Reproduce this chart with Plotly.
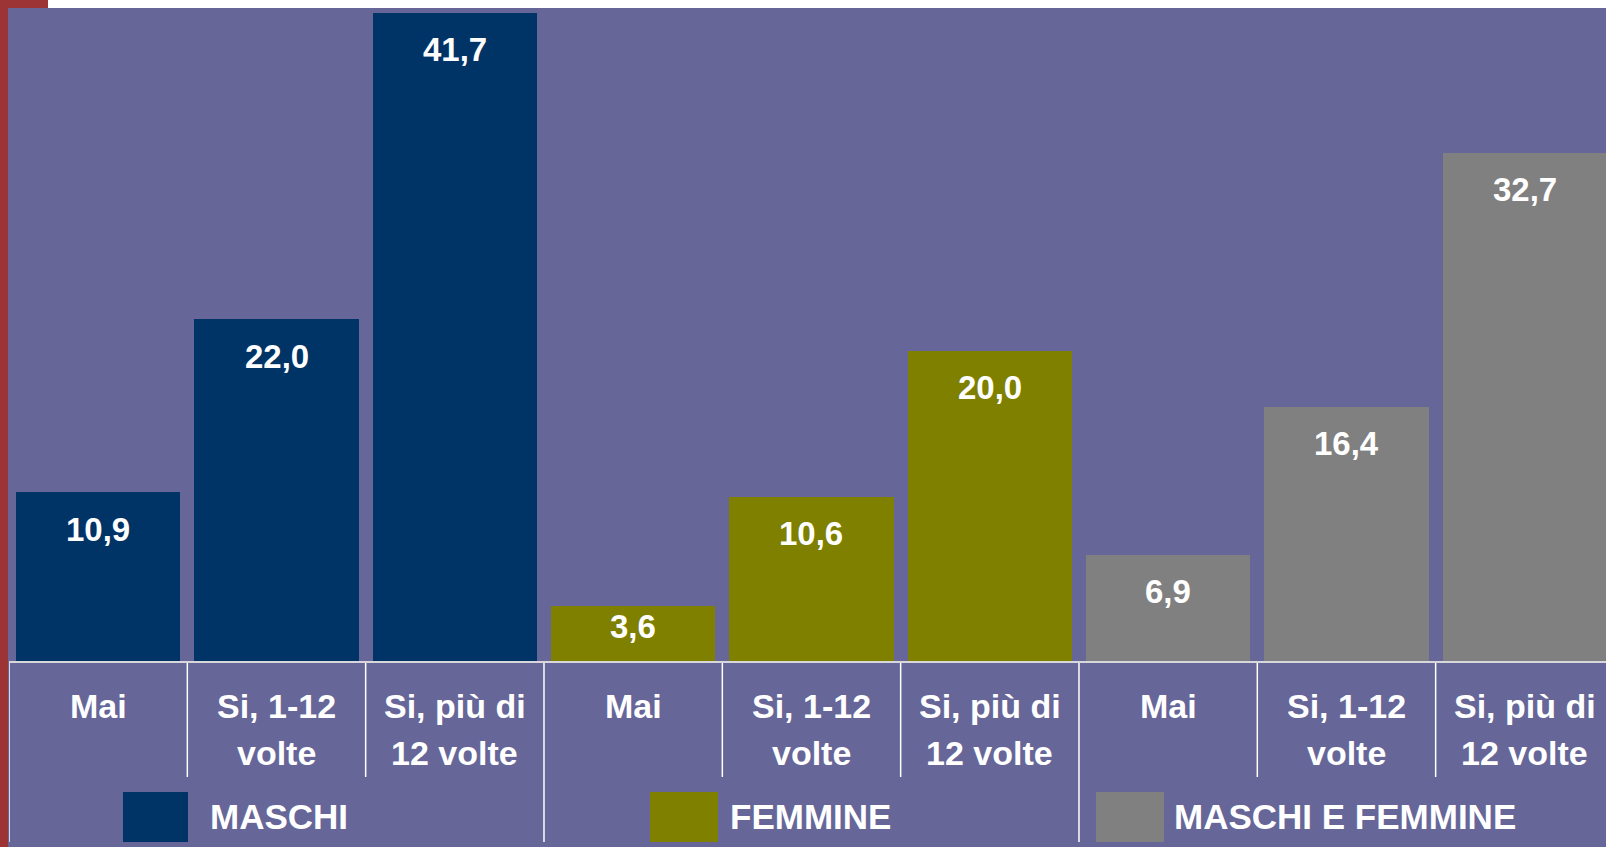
import plotly.graph_objects as go

# ---- data ----
categories = ["Mai", "Si, 1-12 volte", "Si, più di 12 volte"]
cat_line1 = ["Mai", "Si, 1-12", "Si, più di"]
cat_line2 = ["", "volte", "12 volte"]
groups = ["MASCHI", "FEMMINE", "MASCHI E FEMMINE"]
maschi = [10.9, 22.0, 41.7]
femmine = [3.6, 10.6, 20.0]
maschi_e_femmine = [6.9, 16.4, 32.7]
series = [maschi, femmine, maschi_e_femmine]
colors = ["#003366", "#808000", "#808080"]

W, H = 1606, 847
L, T, B = 9, 8, 185
PLOT_W = W - L
PLOT_H = H - T - B
PX_PER_CAT = 178.33
Y_MAX = 42.0
x_max = -0.5 + PLOT_W / PX_PER_CAT
PX_PER_UNIT = PLOT_H / Y_MAX
FONT = "Liberation Sans, Arial, sans-serif"
BG = "#666699"


def px2x(px):
    return (px - L) / PLOT_W


def py2y(py):
    return (T + PLOT_H - py) / PLOT_H


fig = go.Figure()
shapes = []
annotations = []

for g, (name, vals, col) in enumerate(zip(groups, series, colors)):
    xs = [g * 3 + i for i in range(len(vals))]
    fig.add_trace(go.Bar(
        x=xs, y=vals, name=name, marker=dict(color=col, line=dict(width=0)),
        width=0.92, showlegend=False, hoverinfo="skip"))
    for x, v in zip(xs, vals):
        bar_px = v * PX_PER_UNIT
        off = 37 if bar_px > 80 else bar_px * 0.36
        annotations.append(dict(
            x=x, y=v, xref="x", yref="y", text=f"{v:.1f}".replace(".", ","),
            showarrow=False, yanchor="middle", yshift=-off,
            font=dict(family=FONT, size=33, color="white", weight="bold")))
    for i in range(len(vals)):
        x = g * 3 + i
        annotations.append(dict(
            x=x, y=py2y(704), xref="x", yref="paper", text=cat_line1[i],
            showarrow=False, yanchor="middle", yshift=-2,
            font=dict(family=FONT, size=34, color="white", weight="bold")))
        if cat_line2[i]:
            annotations.append(dict(
                x=x, y=py2y(753), xref="x", yref="paper", text=cat_line2[i],
                showarrow=False, yanchor="middle", yshift=0,
                font=dict(family=FONT, size=34, color="white", weight="bold")))

# separators below the axis
n = sum(len(s) for s in series)
for k in range(n):
    xb = k - 0.5
    long = (k % 3 == 0)
    shapes.append(dict(type="line", xref="x", yref="paper", x0=xb, x1=xb,
                       y0=0, y1=py2y(842 if long else 777),
                       line=dict(color="white", width=1.5), layer="above"))

# baseline
shapes.append(dict(type="line", xref="paper", yref="paper", x0=0, x1=1.01,
                   y0=0, y1=0, line=dict(color="#D8D8DC", width=2), layer="above"))

# legend (custom boxes + labels)
legend_box_px = [(123, 188), (650, 718), (1096, 1164)]
legend_text_px = [208, 728, 1172]
for (bx0, bx1), tx, name, col in zip(legend_box_px, legend_text_px, groups, colors):
    shapes.append(dict(type="rect", xref="paper", yref="paper",
                       x0=px2x(bx0), x1=px2x(bx1), y0=py2y(842), y1=py2y(792),
                       fillcolor=col, line=dict(width=0), layer="above"))
    annotations.append(dict(
        x=px2x(tx), y=py2y(817), xref="paper", yref="paper", text=name,
        showarrow=False, xanchor="left", yanchor="middle", yshift=1,
        font=dict(family=FONT, size=35, color="white", weight="bold")))

# frame strips (red left edge / white top)
shapes.append(dict(type="rect", xref="paper", yref="paper",
                   x0=px2x(48), x1=px2x(W + 5), y0=py2y(8), y1=py2y(-5),
                   fillcolor="white", line=dict(width=0), layer="above"))
shapes.append(dict(type="rect", xref="paper", yref="paper",
                   x0=px2x(-5), x1=px2x(48), y0=py2y(8), y1=py2y(-5),
                   fillcolor="#9C3436", line=dict(width=0), layer="above"))
shapes.append(dict(type="rect", xref="paper", yref="paper",
                   x0=px2x(-5), x1=px2x(8), y0=py2y(H + 5), y1=py2y(-5),
                   fillcolor="#9C3436", line=dict(width=0), layer="above"))

fig.update_layout(
    width=W, height=H,
    margin=dict(l=L, r=0, t=T, b=B, pad=0),
    paper_bgcolor=BG, plot_bgcolor=BG,
    bargap=0, barmode="overlay",
    xaxis=dict(range=[-0.5, x_max], showticklabels=False, showgrid=False,
               zeroline=False, showline=False, ticks="", fixedrange=True),
    yaxis=dict(range=[0, Y_MAX], showticklabels=False, showgrid=False,
               zeroline=False, showline=False, ticks="", fixedrange=True),
    shapes=shapes, annotations=annotations,
    showlegend=False,
)

fig.write_html("out.html", config={"displayModeBar": False},
               post_script="document.body.style.margin='0px';"
                           "document.body.style.overflow='hidden';")
